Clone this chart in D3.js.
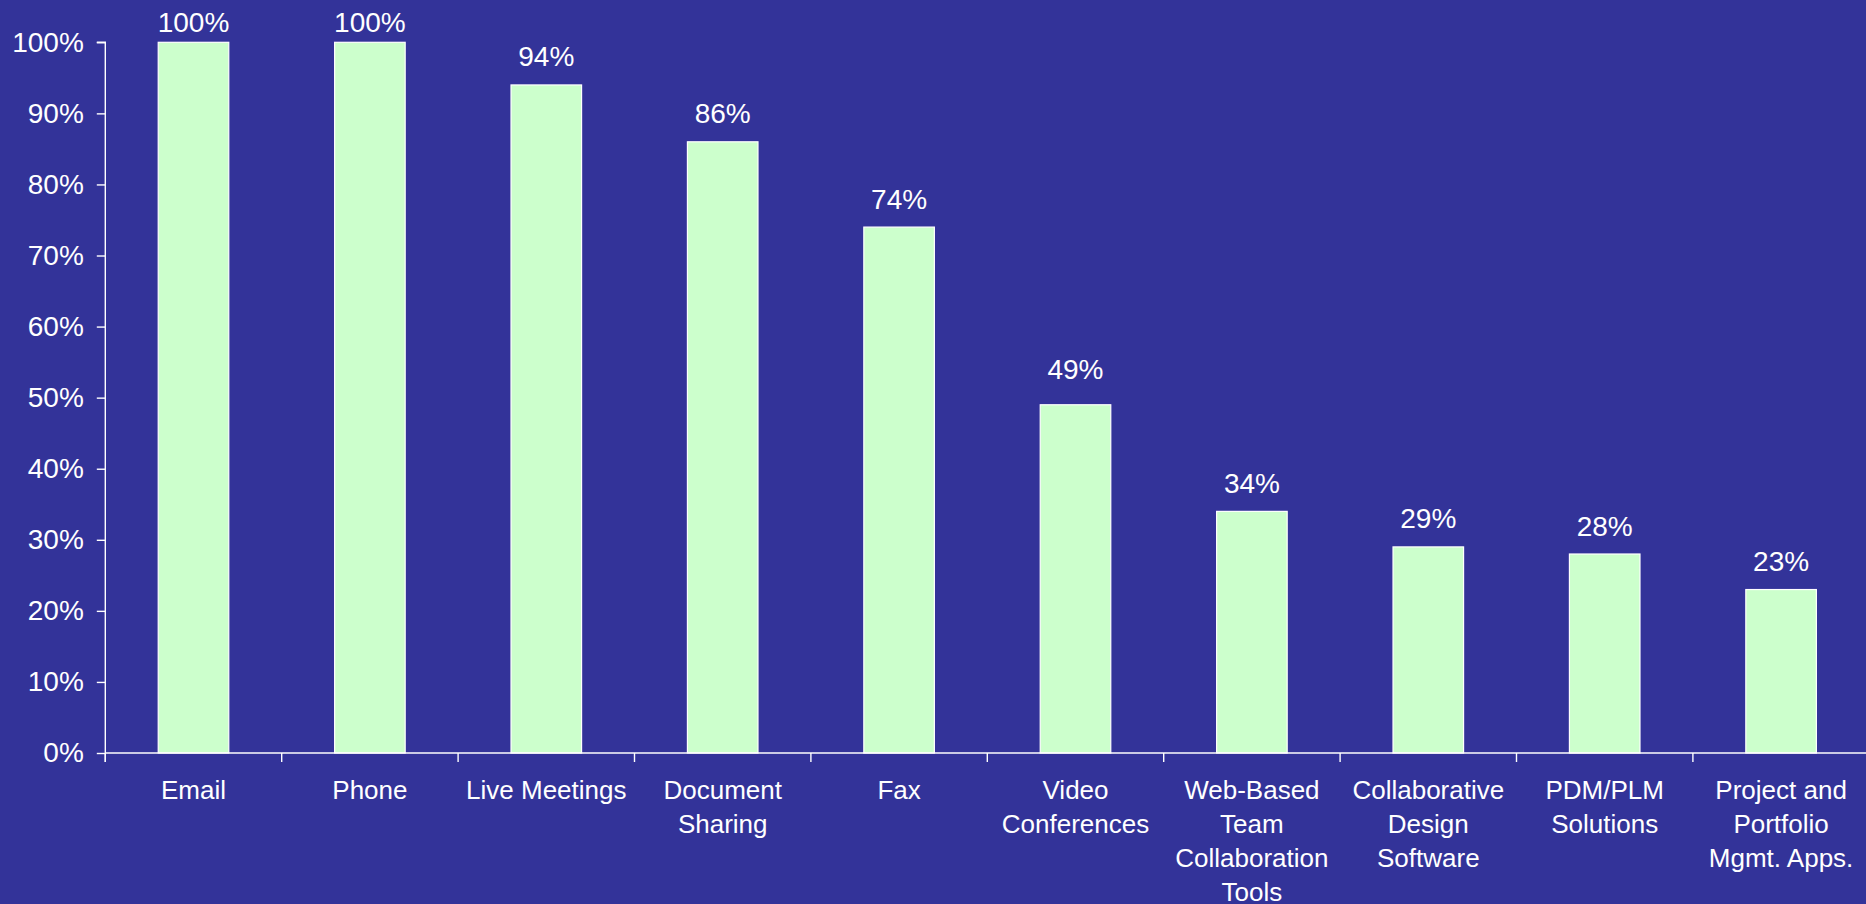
<!DOCTYPE html>
<html lang="en">
<head>
<meta charset="utf-8">
<script src="https://cdn.jsdelivr.net/npm/d3@7"></script>
<title>Collaboration tools</title>
<style>
body{
margin:0;
background:#333399;
font-family:"Liberation Sans", Arial, sans-serif;
}
svg{
display:block;
}
</style>
</head>
<body>
<svg width="1866" height="904"></svg>

<script>
// data
var categories = ["Email","Phone","Live Meetings","Document Sharing","Fax",
  "Video Conferences","Web-Based Team Collaboration Tools","Collaborative Design Software",
  "PDM/PLM Solutions","Project and Portfolio Mgmt. Apps."];
var labelLines = [["Email"],["Phone"],["Live Meetings"],["Document","Sharing"],["Fax"],
  ["Video","Conferences"],["Web-Based","Team","Collaboration","Tools"],["Collaborative","Design","Software"],
  ["PDM/PLM","Solutions"],["Project and","Portfolio","Mgmt. Apps."]];
var values = [100,100,94,86,74,49,34,29,28,23];
var yTicks = [0,10,20,30,40,50,60,70,80,90,100];

var chartLeft = 105.3;
var step = 176.4;
var chartBase = 753;
var chartTop = 42.3;

var svg = d3.select("svg");

var x = d3.scaleBand()
  .domain(categories)
  .range([chartLeft, chartLeft + step*categories.length])
  .paddingInner(0.6)
  .paddingOuter(0.3);

var xCat = d3.scaleBand()
  .domain(categories)
  .range([chartLeft, chartLeft + step*categories.length])
  .padding(0);

var y = d3.scaleLinear()
  .domain([0,100])
  .range([chartBase, chartTop]);

// bars
svg.selectAll("rect.bar")
.data(values).enter()
.append("rect")
.attr("class","bar")
.attr("x",function(d,i){return x(categories[i])})
.attr("y",function(d){return y(d)})
.attr("width",x.bandwidth())
.attr("height",function(d){return chartBase - y(d)})
.attr("fill","#CCFFCC")
.attr("stroke","#ffffff")
.attr("stroke-width",1.2);

// value labels (the 49% one sits a bit higher in the original)
svg.selectAll("text.val")
.data(values).enter()
.append("text")
.attr("class","val")
.attr("x",function(d,i){return x(categories[i]) + x.bandwidth()/2})
.attr("y",function(d,i){
                        var gap = (i == 5) ? 25.5 : 18.5;
                        return Math.max(y(d) - gap, 31.5)})
.attr("text-anchor","middle")
.attr("fill","#ffffff")
.attr("font-size",28)
.text(function(d){return d + "%"});

// y axis
var yAxis = svg.append("g")
.attr("transform","translate(" + chartLeft + ",0)")
.call(d3.axisLeft(y).tickValues(yTicks).tickSize(8.5).tickPadding(13)
  .tickFormat(function(d){return d + "%"}));
yAxis.selectAll("path,line").attr("stroke","#ffffff").attr("stroke-width",1.4);
yAxis.select("path").attr("d","M0," + (chartBase + 9) + "V" + chartTop + "H-8.5");
yAxis.selectAll("text")
.attr("fill","#ffffff")
.attr("font-size",28)
.attr("font-family","Liberation Sans, Arial, sans-serif");

// x axis
var xg = svg.append("g");
xg.append("line")
.attr("x1",chartLeft).attr("x2",chartLeft + step*categories.length)
.attr("y1",chartBase).attr("y2",chartBase)
.attr("stroke","#ffffff").attr("stroke-width",1.4);

xg.selectAll("line.tick")
.data(categories).enter()
.append("line")
.attr("class","tick")
.attr("x1",function(d){return xCat(d)})
.attr("x2",function(d){return xCat(d)})
.attr("y1",chartBase).attr("y2",chartBase + 9)
.attr("stroke","#ffffff").attr("stroke-width",1.4);

var lab = xg.selectAll("text.cat")
.data(categories).enter()
.append("text")
.attr("class","cat")
.attr("x",function(d){return xCat(d) + xCat.bandwidth()/2})
.attr("y",chartBase + 46)
.attr("text-anchor","middle")
.attr("fill","#ffffff")
.attr("font-size",26);

lab.selectAll("tspan")
.data(function(d,i){return labelLines[i]}).enter()
.append("tspan")
.attr("x",function(){return this.parentNode.getAttribute("x")})
.attr("dy",function(d,i){return i == 0 ? 0 : 34})
.text(function(d){return d});
</script>
</body>
</html>
